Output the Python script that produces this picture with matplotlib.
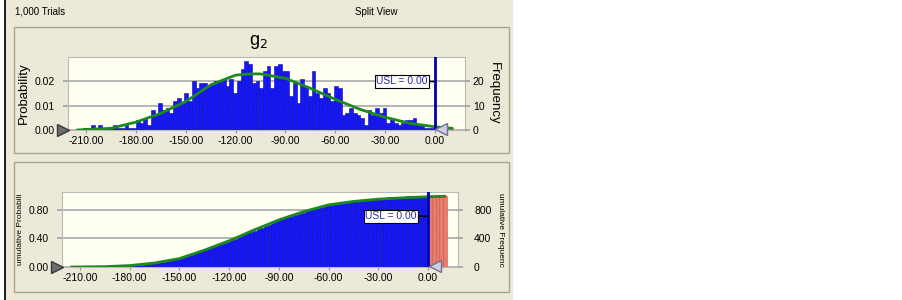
import numpy as np
import matplotlib
matplotlib.use("Agg")
import matplotlib.pyplot as plt
from matplotlib.patches import Rectangle

plt.rcParams["font.family"] = ["Liberation Sans", "DejaVu Sans"]

# --- data ---
N_TRIALS = 1000
BIN_START, BIN_W = -213.75, 2.25
counts = [0, 1, 0, 2, 1, 2, 1, 1, 1, 2,
          1, 1, 2, 1, 1, 4, 3, 5, 2, 8,
          6, 11, 8, 9, 7, 12, 13, 11, 15, 12,
          20, 17, 19, 19, 18, 19, 20, 20, 21, 18,
          21, 15, 20, 25, 28, 27, 19, 20, 17, 24,
          26, 17, 26, 27, 24, 24, 14, 19, 11, 21,
          18, 14, 24, 15, 13, 17, 15, 12, 18, 17,
          6, 7, 9, 7, 6, 5, 2, 8, 6, 9,
          7, 9, 3, 5, 3, 2, 3, 4, 4, 5,
          2, 2, 1, 1, 1]
red_counts = [0, 1, 0, 1, 1]          # trials above the USL

fit_x = [-215, -210, -195, -180, -165, -150, -135, -120, -111, -105,
         -90, -75, -60, -45, -30, -15, 0, 10]
fit_p = [0.0, 0.0002, 0.0007, 0.0032, 0.0068, 0.0116, 0.0184, 0.0224,
         0.0229, 0.0229, 0.0211, 0.0170, 0.0125, 0.0084, 0.0052, 0.0027,
         0.0013, 0.0007]

cum_x = [-215, -195, -180, -165, -150, -135, -120, -105, -90, -75,
         -60, -45, -30, -15, 0, 10]
cum_p = [0.0, 0.005, 0.02, 0.056, 0.118, 0.235, 0.367, 0.518, 0.659,
         0.776, 0.87, 0.918, 0.95, 0.969, 0.984, 0.99]

xticks = [-210, -180, -150, -120, -90, -60, -30, 0]
USL = 0.0
TITLE = "g$_2$"

# --- figure ---
W, H = 903, 300
fig = plt.figure(figsize=(W/100, H/100), dpi=100, facecolor="white")

BEIGE = "#ECE9D8"
PLOT_BG = "#FFFFF2"
BLUE = "#1616FA"
BLUE_EDGE = "#0C0CA0"
GREEN = "#1E8A1E"
RED = "#EA7C6E"
NAVY = "#0000A8"


def frect(x0, y0, x1, y1, **kw):
    fig.patches.append(Rectangle((x0/W, 1 - y1/H), (x1-x0)/W, (y1-y0)/H,
                                 transform=fig.transFigure, zorder=-5, **kw))


def px_axes(x0, y0, x1, y1):
    return fig.add_axes([x0/W, 1 - y1/H, (x1-x0)/W, (y1-y0)/H])


frect(4, 0, 513, 300, facecolor=BEIGE, edgecolor="none")
frect(4, 0, 6, 300, facecolor="#202020", edgecolor="none")
frect(14, 27, 509, 153, facecolor="none", edgecolor="#A8A494", lw=1)
frect(14, 162, 509, 292, facecolor="none", edgecolor="#A8A494", lw=1)
fig.text(15/W, 1 - 12/H, "1,000 Trials", fontsize=7, va="center")
fig.text(355/W, 1 - 12/H, "Split View", fontsize=7, va="center")
fig.text(258/W, 1 - 42/H, TITLE, fontsize=13, ha="center", va="center")

XLIM = (-220.8, 18.0)


def style(ax, ylim, yticks, ylabels):
    ax.set_facecolor(PLOT_BG)
    ax.set_xlim(*XLIM)
    ax.set_ylim(*ylim)
    for s in ax.spines.values():
        s.set_color("#B8B8B8")
        s.set_linewidth(0.8)
    ax.set_xticks(xticks)
    ax.set_xticklabels([f"{v:.2f}" for v in xticks], fontsize=7.5)
    ax.set_yticks(yticks)
    ax.set_yticklabels(ylabels, fontsize=7.5)
    ax.tick_params(axis="x", length=2.5, color="#909090", pad=2)
    ax.tick_params(axis="y", length=3.6, color="#A0A0A0", width=1.2, pad=6)
    ax.yaxis.grid(True, color="#A8A8A8", lw=1.2)
    ax.set_axisbelow(True)


def usl_box(ax, y, dx):
    ax.annotate("USL = 0.00", xy=(USL, y), xytext=(dx, 0),
                textcoords="offset pixels", ha="center", va="center",
                fontsize=7.5, color="#2A2AA8",
                bbox=dict(boxstyle="square,pad=0.15", fc="white", ec="black",
                          lw=0.8),
                arrowprops=dict(arrowstyle="-", color="black", lw=1.2,
                                shrinkA=0, shrinkB=1), zorder=7)


# ---------------- upper: frequency chart ----------------
ax1 = px_axes(68, 57, 465, 130)
style(ax1, (0, 0.0298), [0, 0.01, 0.02], ["0.00", "0.01", "0.02"])
left = BIN_START + BIN_W*np.arange(len(counts))
ax1.bar(left, np.array(counts)/N_TRIALS, width=BIN_W, align="edge",
        color=BLUE, edgecolor=BLUE_EDGE, lw=0.4, zorder=2)
rleft = USL + BIN_W*np.arange(len(red_counts))
ax1.bar(rleft, np.array(red_counts)/N_TRIALS, width=BIN_W, align="edge",
        color=RED, edgecolor=RED, lw=0.3, zorder=2)
ax1.plot(fit_x, fit_p, color=GREEN, lw=2, zorder=3)
ax1.axvline(USL, color=NAVY, lw=2, zorder=4)
ax1.set_ylabel("Probability", fontsize=9.5, labelpad=3)

ax1r = ax1.twinx()
ax1r.set_ylim(0, 0.0298*N_TRIALS)
ax1r.set_yticks([0, 10, 20])
ax1r.set_yticklabels(["0", "10", "20"], fontsize=7.5)
ax1r.tick_params(axis="y", length=3.6, color="#A0A0A0", width=1.2, pad=2)
for s in ax1r.spines.values():
    s.set_visible(False)
ax1r.set_ylabel("Frequency", fontsize=9.5, rotation=270, labelpad=11)

# grabbers
ax1.plot([XLIM[0] - 3.0], [0], marker=">", ms=8, mfc="#6E6E6E", mec="#3A3A3A",
         clip_on=False, zorder=6)
ax1.plot([3.6], [0.0004], marker="<", ms=9, mfc="#CFCFE4", mec="#707090",
         clip_on=False, zorder=6)
usl_box(ax1, 0.0198, -33)

# ---------------- lower: cumulative chart ----------------
ax2 = px_axes(62, 192, 458, 267)
style(ax2, (0, 1.05), [0, 0.4, 0.8], ["0.00", "0.40", "0.80"])
cum = np.cumsum(counts)/np.sum(counts + red_counts)
ax2.bar(left, cum, width=BIN_W, align="edge", color=BLUE,
        edgecolor=BLUE_EDGE, lw=0.4, zorder=2)
rcum = (np.sum(counts) + np.cumsum(red_counts))/np.sum(counts + red_counts)
ax2.bar(rleft, rcum, width=BIN_W, align="edge", color=RED,
        edgecolor="#C85A4C", lw=0.4, zorder=2)
ax2.plot(cum_x, cum_p, color=GREEN, lw=2, zorder=3)
ax2.axvline(USL, color=NAVY, lw=2, zorder=4)
ax2.set_ylabel("umulative Probabili", fontsize=6, labelpad=3)

ax2r = ax2.twinx()
ax2r.set_ylim(0, 1.05*N_TRIALS)
ax2r.set_yticks([0, 400, 800])
ax2r.set_yticklabels(["0", "400", "800"], fontsize=7.5)
ax2r.tick_params(axis="y", length=3.6, color="#A0A0A0", width=1.2, pad=8)
for s in ax2r.spines.values():
    s.set_visible(False)
ax2r.set_ylabel("umulative Frequenc", fontsize=6, rotation=270, labelpad=9)

ax2.plot([XLIM[0] - 3.0], [0], marker=">", ms=8, mfc="#6E6E6E", mec="#3A3A3A",
         clip_on=False, zorder=6)
ax2.plot([4.2], [0.02], marker="<", ms=9, mfc="#CFCFE4", mec="#707090",
         clip_on=False, zorder=6)
usl_box(ax2, 0.71, -37)

fig.savefig("out.png", dpi=100, facecolor="white")
